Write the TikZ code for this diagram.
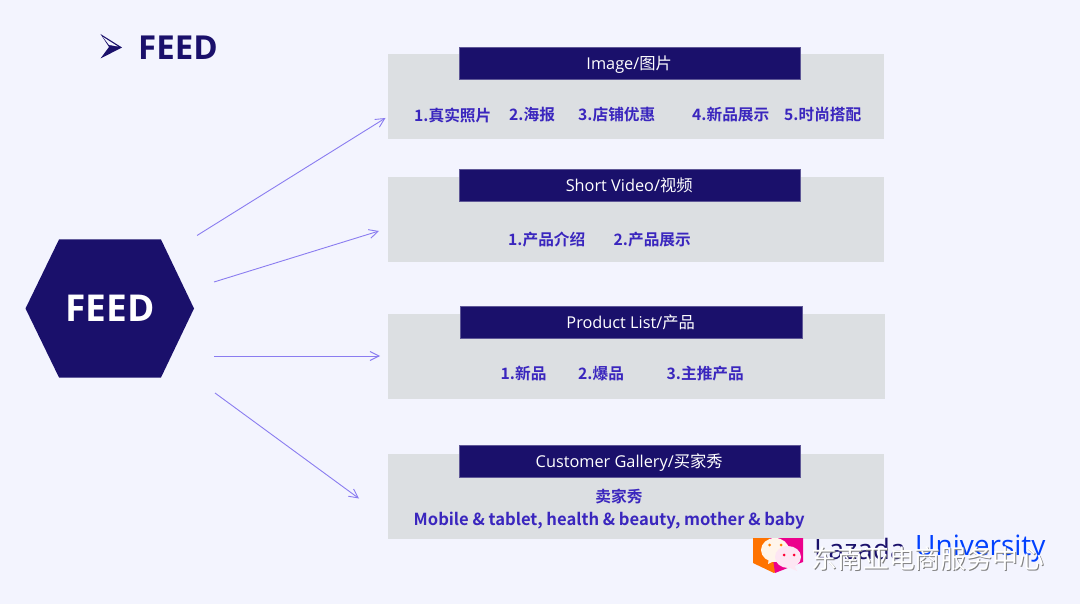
\documentclass[tikz,border=0pt]{standalone}
\usepackage{fontspec}
\setmainfont{Open Sans}
\newfontfamily\cjk{Noto Sans CJK SC}
\newfontfamily\cjkb{Noto Sans CJK SC Bold}
\newfontfamily\latb{Open Sans Bold}
\usetikzlibrary{arrows.meta}
\definecolor{bgc}{HTML}{F3F4FE}
\definecolor{navy}{HTML}{1A106B}
\definecolor{panel}{HTML}{DCDFE2}
\definecolor{itemc}{HTML}{3A26BE}
\definecolor{arrowc}{HTML}{8A7CF0}
\tikzset{
  x=1pt,y=-1pt,
  panelbox/.style={fill=panel,draw=none,minimum width=496pt,minimum height=85pt,inner sep=0,anchor=north west},
  headbox/.style={fill=navy,draw=navy!70!white,line width=.4pt,minimum width=341pt,minimum height=32pt,inner sep=0,anchor=north west,text=white,text height=14pt,text depth=2pt,font=\fontsize{16.3}{18}\selectfont},
  item/.style={text=itemc,font=\fontsize{15.7}{18}\selectfont\cjkb,inner sep=0,anchor=west},
  conn/.style={draw=arrowc,line width=.9pt,-{Straight Barb[length=9pt,width=9pt,line width=.9pt]}},
}
\begin{document}
\begin{tikzpicture}
\useasboundingbox (0,0) rectangle (1080,604);
\fill[bgc] (0,0) rectangle (1080,604);
% title
\fill[navy] (100.5,34) -- (122,47.5) -- (100.5,58.5) -- (109,47) -- cycle;
\fill[bgc] (103,37) -- (118,46.5) -- (109,45) -- cycle;
\node[anchor=west,inner sep=0,text=navy,font=\fontsize{33}{34}\selectfont\latb] (title) at (138,47.5) {FEED};
% hexagon
\fill[navy] (25.5,308.5) -- (59,239.5) -- (161,239.5) -- (194,308.5) -- (161,377.5) -- (59,377.5) -- cycle;
\node[text=white,inner sep=0,font=\fontsize{37}{38}\selectfont\latb] (hex) at (110,308) {FEED};
% panels
\node[panelbox] (p1) at (387.5,54) {};
\node[panelbox] (p2) at (387.5,176.5) {};
\node[panelbox,minimum width=497pt] (p3) at (388,314) {};
\node[panelbox] (p4) at (387.5,453.5) {};
\node[headbox] (h1) at (458.5,47) {Image/{\cjk 图片}};
\node[headbox] (h2) at (458.5,169) {Short Video/{\cjk 视频}};
\node[headbox,minimum width=342pt] (h3) at (459.5,306) {Product List/{\cjk 产品}};
\node[headbox] (h4) at (458.5,445) {Customer Gallery/{\cjk 买家秀}};
% items
\node[item] (a1) at (414,115) {1.真实照片};
\node[item] (a2) at (509,115) {2.海报};
\node[item] (a3) at (578,115) {3.店铺优惠};
\node[item] (a4) at (692,115) {4.新品展示};
\node[item] (a5) at (784,115) {5.时尚搭配};
\node[item] (b1) at (508,240) {1.产品介绍};
\node[item] (b2) at (613.5,240) {2.产品展示};
\node[item] (c1) at (500.5,373.5) {1.新品};
\node[item] (c2) at (578,373.5) {2.爆品};
\node[item] (c3) at (666.5,373.5) {3.主推产品};
\node[item,anchor=center] (d1) at (619,496.5) {卖家秀};
\node[item,font=\fontsize{16.6}{18}\selectfont\cjkb] (d2) at (413.5,521) {Mobile \& tablet, health \& beauty, mother \& baby};
% connectors
\coordinate (s1) at (197,235.5); \coordinate (e1) at (385.5,118);
\coordinate (s2) at (214,282); \coordinate (e2) at (379,231);
\coordinate (s3) at (214,356); \coordinate (e3) at (380,356);
\coordinate (s4) at (215,393); \coordinate (e4) at (359,498.5);
\draw[conn] (s1) -- (e1);
\draw[conn] (s2) -- (e2);
\draw[conn] (s3) -- (e3);
\draw[conn] (s4) -- (e4);
% watermark logo
\fill[orange!90!red] (753,538) -- (784,538) -- (784,566) -- (774,573) -- (753,563) -- cycle;
\fill[magenta] (770,538) -- (803,538) -- (803,562) -- (775,573) -- cycle;
\fill[white!92!orange] (775,550) ellipse[x radius=14,y radius=12];
\fill[white!92!orange] (769,558) -- (768,564) -- (776,560) -- cycle;
\fill[white!90!magenta] (788,557) ellipse[x radius=13,y radius=11];
\fill[white!90!magenta] (794,565) -- (797,571) -- (788,567) -- cycle;
\fill[orange] (769.5,545) circle (1.5) (781,545) circle (1.5);
\fill[red!80!magenta] (784,555) circle (1.5) (794,555) circle (1.5);
% watermark text
\node[anchor=west,inner sep=0,text=navy,font=\fontsize{28}{30}\selectfont] (wm1) at (814,549) {Lazada};
\node[anchor=west,inner sep=0,text=blue!75!cyan,font=\fontsize{28}{30}\selectfont] (wm2) at (915,549) {University};
\node[anchor=west,inner sep=0,text=gray,font=\fontsize{25.8}{28}\selectfont\cjk] at (812.5,559.5) {东南亚电商服务中心};
\node[anchor=west,inner sep=0,text=white,font=\fontsize{25.8}{28}\selectfont\cjk] (wm3) at (811.5,558.5) {东南亚电商服务中心};
\end{tikzpicture}
\end{document}
